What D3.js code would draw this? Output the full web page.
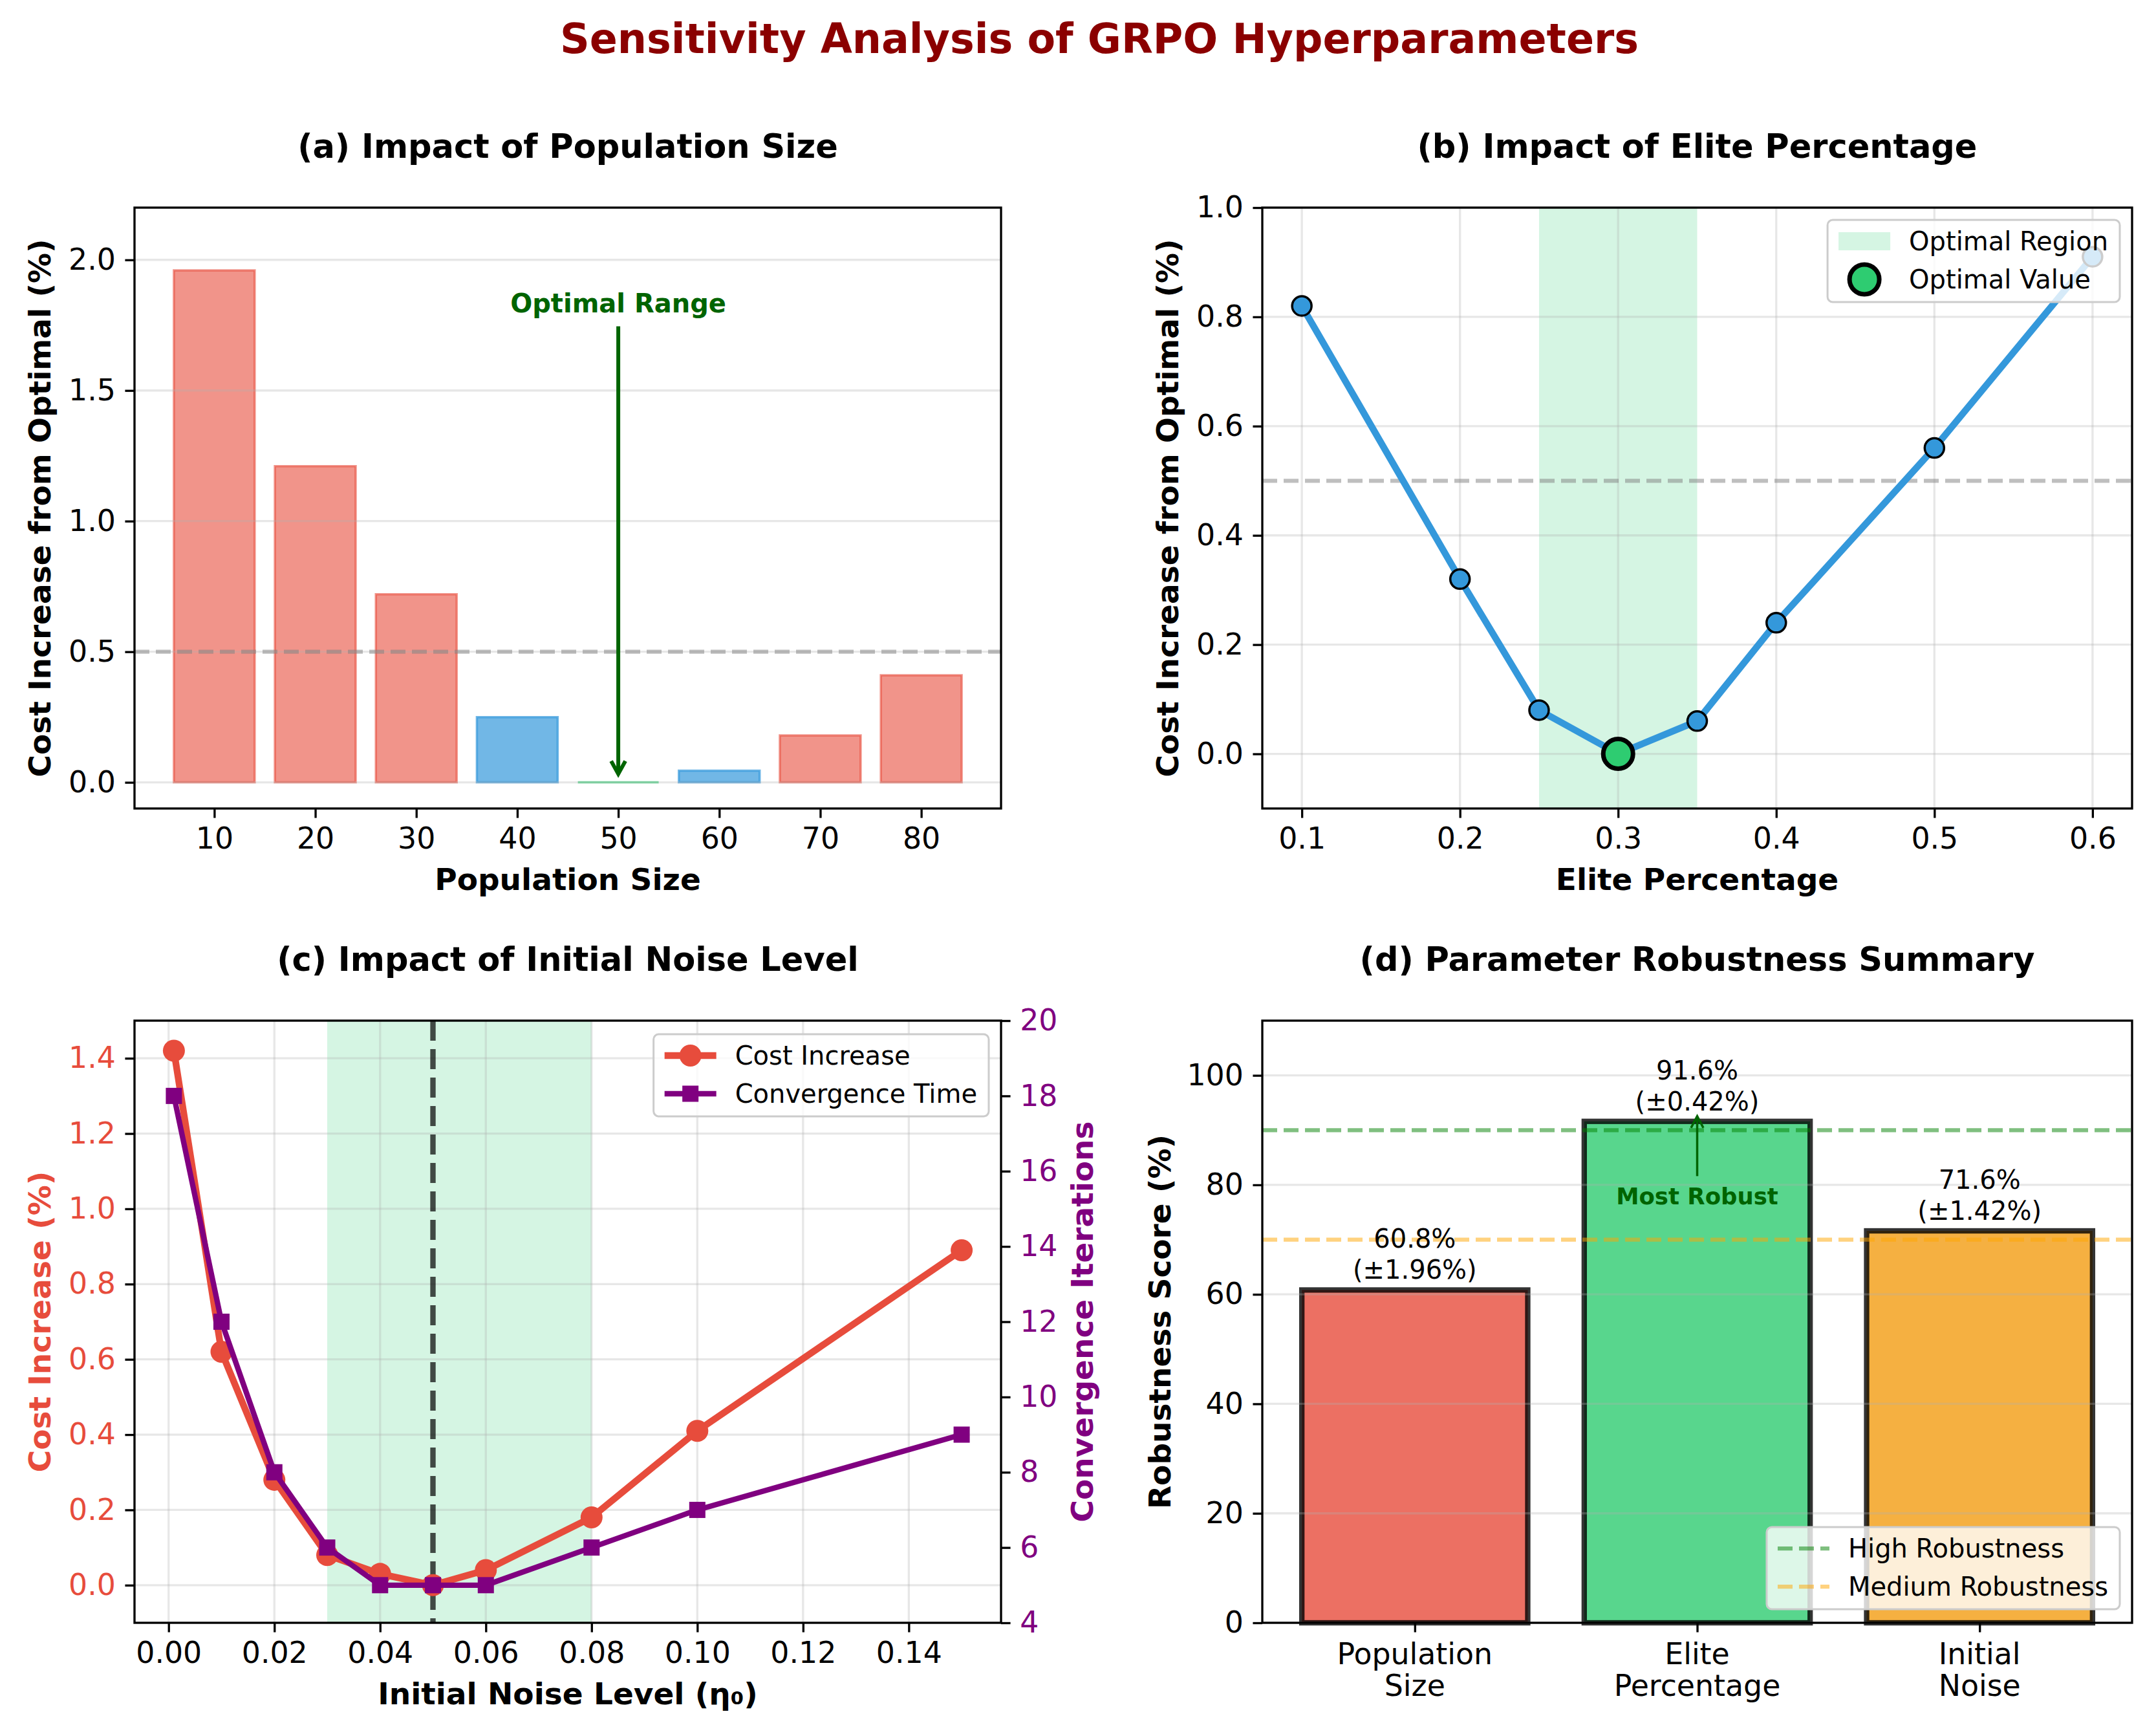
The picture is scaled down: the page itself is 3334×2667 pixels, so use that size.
<!DOCTYPE html>
<html>
<head>
<meta charset="utf-8">
<script src="https://cdn.jsdelivr.net/npm/d3@7"></script>
<style>
body { margin: 0; background: #fff; }
</style>
</head>
<body>
<div id="chart"></div>
<script>
// ---- data ----
var popSizes = [10, 20, 30, 40, 50, 60, 70, 80];
var popCost = [1.96, 1.21, 0.72, 0.25, 0.0, 0.045, 0.18, 0.41];
var popStatus = ["poor", "poor", "poor", "near", "optimal", "near", "poor", "poor"];
var popYTicks = [0, 0.5, 1.0, 1.5, 2.0];

var elitePct = [0.1, 0.2, 0.25, 0.3, 0.35, 0.4, 0.5, 0.6];
var eliteCost = [0.82, 0.32, 0.08, 0.0, 0.06, 0.24, 0.56, 0.91];
var eliteBest = 0.3;
var eliteRegion = [0.25, 0.35];
var eliteXTicks = [0.1, 0.2, 0.3, 0.4, 0.5, 0.6];
var eliteYTicks = [0, 0.2, 0.4, 0.6, 0.8, 1.0];

var noiseLevels = [0.001, 0.01, 0.02, 0.03, 0.04, 0.05, 0.06, 0.08, 0.10, 0.15];
var noiseCost = [1.42, 0.62, 0.28, 0.08, 0.03, 0.0, 0.04, 0.18, 0.41, 0.89];
var noiseIters = [18, 12, 8, 6, 5, 5, 5, 6, 7, 9];
var noiseRegion = [0.03, 0.08];
var noiseBest = 0.05;
var noiseXTicks = [0, 0.02, 0.04, 0.06, 0.08, 0.10, 0.12, 0.14];
var noiseYTicks = [0, 0.2, 0.4, 0.6, 0.8, 1.0, 1.2, 1.4];
var iterTicks = [4, 6, 8, 10, 12, 14, 16, 18, 20];

var paramNames = [["Population", "Size"], ["Elite", "Percentage"], ["Initial", "Noise"]];
var robustScore = [60.8, 91.6, 71.6];
var robustStd = [1.96, 0.42, 1.42];
var robustYTicks = [0, 20, 40, 60, 80, 100];
var highLevel = 90, mediumLevel = 70;
var costThreshold = 0.5;

// ---- setup ----
var W = 3334, H = 2667;
var PT = 300 / 72;
var FS_TICK = 45.8, FS_LAB = 47, FS_TITLE = 51, FS_LEG = 40;

var RED = "#e74c3c", BLUE = "#3498db", GREEN = "#2ecc71", ORANGE = "#f39c12", PURPLE = "#800080";

var svg = d3.select("#chart").append("svg")
    .attr("width", W).attr("height", H)
    .attr("font-family", "DejaVu Sans, sans-serif");
svg.append("rect").attr("width", W).attr("height", H).attr("fill", "#fff");

var boxA = {x0: 208, x1: 1548, y0: 321, y1: 1250},
    boxB = {x0: 1952, x1: 3297, y0: 321, y1: 1250},
    boxC = {x0: 208, x1: 1548, y0: 1578, y1: 2509},
    boxD = {x0: 1952, x1: 3297, y0: 1578, y1: 2509};

svg.append("text").attr("x", 1700).attr("y", 82)
    .attr("text-anchor", "middle").attr("font-weight", "bold")
    .style("font-size", "63.5px").attr("fill", "#8b0000")
    .text("Sensitivity Analysis of GRPO Hyperparameters");

// ---- helpers ----
function clipFor(box, id) {
    svg.append("clipPath").attr("id", id).append("rect")
        .attr("x", box.x0).attr("y", box.y0)
        .attr("width", box.x1 - box.x0).attr("height", box.y1 - box.y0);
    return "url(#" + id + ")";
}

function gridH(box, y, ticks) {
    svg.append("g").selectAll("line").data(ticks).enter().append("line")
        .attr("x1", box.x0).attr("x2", box.x1)
        .attr("y1", function(d) { return y(d); }).attr("y2", function(d) { return y(d); })
        .attr("stroke", "#b0b0b0").attr("stroke-opacity", 0.3).attr("stroke-width", 0.8 * PT);
}

function gridV(box, x, ticks) {
    svg.append("g").selectAll("line").data(ticks).enter().append("line")
        .attr("y1", box.y0).attr("y2", box.y1)
        .attr("x1", function(d) { return x(d); }).attr("x2", function(d) { return x(d); })
        .attr("stroke", "#b0b0b0").attr("stroke-opacity", 0.3).attr("stroke-width", 0.8 * PT);
}

function styleAxis(ax, color) {
    ax.attr("font-family", null).attr("font-size", null);
    ax.select(".domain").remove();
    ax.selectAll(".tick line").attr("stroke", "#000").attr("stroke-width", 0.8 * PT);
    ax.selectAll(".tick text").attr("fill", color || "#000").style("font-size", FS_TICK + "px");
    return ax;
}

function axisLeft(box, y, ticks, fmt, color) {
    var ax = svg.append("g").attr("transform", "translate(" + box.x0 + ",0)")
        .call(d3.axisLeft(y).tickValues(ticks).tickFormat(fmt).tickSize(3.5 * PT).tickPadding(3.5 * PT));
    return styleAxis(ax, color);
}

function axisRight(box, y, ticks, fmt, color) {
    var ax = svg.append("g").attr("transform", "translate(" + box.x1 + ",0)")
        .call(d3.axisRight(y).tickValues(ticks).tickFormat(fmt).tickSize(3.5 * PT).tickPadding(3.5 * PT));
    return styleAxis(ax, color);
}

function axisBottom(box, x, ticks, fmt) {
    var ax = svg.append("g").attr("transform", "translate(0," + box.y1 + ")")
        .call(d3.axisBottom(x).tickValues(ticks).tickFormat(fmt).tickSize(3.5 * PT).tickPadding(3.5 * PT));
    return styleAxis(ax);
}

function frame(box) {
    svg.append("rect").attr("x", box.x0).attr("y", box.y0)
        .attr("width", box.x1 - box.x0).attr("height", box.y1 - box.y0)
        .attr("fill", "none").attr("stroke", "#000").attr("stroke-width", 0.8 * PT);
}

function titles(box, title, xlab, ylab, ycolor, yoff) {
    var cx = (box.x0 + box.x1) / 2, cy = (box.y0 + box.y1) / 2;
    svg.append("text").attr("x", cx).attr("y", box.y0 - 77)
        .attr("text-anchor", "middle").attr("font-weight", "bold")
        .style("font-size", FS_TITLE + "px").text(title);
    svg.append("text").attr("x", cx).attr("y", box.y1 + 126)
        .attr("text-anchor", "middle").attr("font-weight", "bold")
        .style("font-size", FS_LAB + "px").text(xlab);
    svg.append("text")
        .attr("transform", "translate(" + (box.x0 - (yoff || 130)) + "," + cy + ") rotate(-90)")
        .attr("text-anchor", "middle").attr("font-weight", "bold")
        .attr("fill", ycolor || "#000")
        .style("font-size", FS_LAB + "px").text(ylab);
}

function hline(box, y, v, color, op, w, dash) {
    svg.append("line").attr("x1", box.x0).attr("x2", box.x1)
        .attr("y1", y(v)).attr("y2", y(v))
        .attr("stroke", color).attr("stroke-opacity", op)
        .attr("stroke-width", w).attr("stroke-dasharray", dash);
}

function arrow(x, yFrom, yTo, color, w, hw, hl) {
    var dir = yTo > yFrom ? -1 : 1;
    svg.append("line").attr("x1", x).attr("x2", x).attr("y1", yFrom).attr("y2", yTo)
        .attr("stroke", color).attr("stroke-width", w);
    svg.append("path")
        .attr("d", "M" + (x - hw) + "," + (yTo + dir * hl) + "L" + x + "," + yTo + "L" + (x + hw) + "," + (yTo + dir * hl))
        .attr("fill", "none").attr("stroke", color).attr("stroke-width", w)
        .attr("stroke-linejoin", "miter");
}

function legend(items, right, top, bottom) {
    var g = svg.append("g");
    var box = g.append("rect");
    var padTop = 33, rowH = 59, textX = 126, hx = 17, hl = 80;
    var widths = [];
    items.forEach(function(it, i) {
        var cy = padTop + i * rowH;
        var t = g.append("text").attr("x", textX).attr("y", cy).attr("dy", "0.36em")
            .style("font-size", FS_LEG + "px").attr("fill", "#000").text(it.label);
        widths.push(t.node().getComputedTextLength());
        if (it.type === "patch") {
            g.append("rect").attr("x", hx).attr("y", cy - 14).attr("width", hl).attr("height", 28)
                .attr("fill", it.color).attr("fill-opacity", it.op);
        }
        if (it.type === "line") {
            g.append("line").attr("x1", hx).attr("x2", hx + hl).attr("y1", cy).attr("y2", cy)
                .attr("stroke", it.color).attr("stroke-opacity", it.op || 1)
                .attr("stroke-width", it.w).attr("stroke-dasharray", it.dash || null);
        }
        if (it.marker === "circle") {
            g.append("circle").attr("cx", hx + hl / 2).attr("cy", cy).attr("r", it.r)
                .attr("fill", it.mfill).attr("stroke", it.mstroke || "none").attr("stroke-width", it.msw || 0);
        }
        if (it.marker === "square") {
            g.append("rect").attr("x", hx + hl / 2 - it.r).attr("y", cy - it.r)
                .attr("width", 2 * it.r).attr("height", 2 * it.r).attr("fill", it.mfill);
        }
    });
    var w = textX + d3.max(widths) + 18, h = padTop + (items.length - 1) * rowH + 35;
    box.attr("width", w).attr("height", h).attr("rx", 8)
        .attr("fill", "#fff").attr("fill-opacity", 0.8)
        .attr("stroke", "#cccccc").attr("stroke-width", 3);
    var ty = top != null ? top : bottom - h;
    g.attr("transform", "translate(" + (right - w) + "," + ty + ")");
}

// ---- (a) population size ----
(function() {
    var b = boxA;
    var x = d3.scaleLinear().domain([2.1, 87.9]).range([b.x0, b.x1]);
    var y = d3.scaleLinear().domain([-0.1, 2.2]).range([b.y1, b.y0]);
    var fills = {poor: [RED, 0.6], near: [BLUE, 0.7], optimal: [GREEN, 0.7]};

    // paths, so that a zero-height bar still shows its edge
    svg.append("g").selectAll("path").data(popSizes).enter().append("path")
        .attr("d", function(d, i) {
            var xa = x(d - 4), xb = x(d + 4), ya = y(0), yb = y(popCost[i]);
            return "M" + xa + "," + ya + "H" + xb + "V" + yb + "H" + xa + "Z";
        })
        .attr("fill", function(d, i) { return fills[popStatus[i]][0]; })
        .attr("fill-opacity", function(d, i) { return fills[popStatus[i]][1]; })
        .attr("stroke", function(d, i) { return fills[popStatus[i]][0]; })
        .attr("stroke-opacity", function(d, i) { return fills[popStatus[i]][1]; })
        .attr("stroke-width", 3.5);

    gridH(b, y, popYTicks);
    hline(b, y, costThreshold, "#808080", 0.5, 1.5 * PT, "23,10");

    svg.append("text").attr("x", x(50)).attr("y", y(1.8))
        .attr("text-anchor", "middle").attr("font-weight", "bold")
        .style("font-size", "40px").attr("fill", "#006400").text("Optimal Range");
    arrow(x(50), y(1.8) + 22, y(0) - 13, "#006400", 6, 11, 20);

    frame(b);
    axisLeft(b, y, popYTicks, d3.format(".1f"));
    axisBottom(b, x, popSizes, d3.format("d"));
    titles(b, "(a) Impact of Population Size", "Population Size", "Cost Increase from Optimal (%)");
})();

// ---- (b) elite percentage ----
(function() {
    var b = boxB;
    var x = d3.scaleLinear().domain([0.075, 0.625]).range([b.x0, b.x1]);
    var y = d3.scaleLinear().domain([-0.1, 1.0]).range([b.y1, b.y0]);
    var clip = clipFor(b, "clipB");

    svg.append("rect").attr("x", x(eliteRegion[0])).attr("y", b.y0)
        .attr("width", x(eliteRegion[1]) - x(eliteRegion[0])).attr("height", b.y1 - b.y0)
        .attr("fill", GREEN).attr("fill-opacity", 0.2);
    gridH(b, y, eliteYTicks);
    gridV(b, x, eliteXTicks);
    hline(b, y, costThreshold, "#808080", 0.5, 1.5 * PT, "23,10");

    var line = d3.line().x(function(d, i) { return x(elitePct[i]); }).y(function(d) { return y(d); });
    var g = svg.append("g").attr("clip-path", clip);
    g.append("path").datum(eliteCost).attr("d", line)
        .attr("fill", "none").attr("stroke", BLUE).attr("stroke-width", 2.5 * PT)
        .attr("stroke-linejoin", "round").attr("stroke-linecap", "butt");
    g.selectAll("circle").data(eliteCost).enter().append("circle")
        .attr("cx", function(d, i) { return x(elitePct[i]); })
        .attr("cy", function(d) { return y(d); })
        .attr("r", 15).attr("fill", BLUE).attr("stroke", "#000").attr("stroke-width", 3.5);
    var bi = elitePct.indexOf(eliteBest);
    g.append("circle").attr("cx", x(eliteBest)).attr("cy", y(eliteCost[bi]))
        .attr("r", 23).attr("fill", GREEN).attr("stroke", "#000").attr("stroke-width", 7);

    frame(b);
    axisLeft(b, y, eliteYTicks, d3.format(".1f"));
    axisBottom(b, x, eliteXTicks, d3.format(".1f"));
    titles(b, "(b) Impact of Elite Percentage", "Elite Percentage", "Cost Increase from Optimal (%)");

    legend([
        {type: "patch", label: "Optimal Region", color: GREEN, op: 0.2},
        {type: "none", label: "Optimal Value", marker: "circle", r: 23, mfill: GREEN, mstroke: "#000", msw: 7}
    ], b.x1 - 19, b.y0 + 19);
})();

// ---- (c) initial noise ----
(function() {
    var b = boxC;
    var x = d3.scaleLinear().domain([-0.00645, 0.15745]).range([b.x0, b.x1]);
    var y = d3.scaleLinear().domain([-0.1, 1.5]).range([b.y1, b.y0]);
    var y2 = d3.scaleLinear().domain([4, 20]).range([b.y1, b.y0]);
    var clip = clipFor(b, "clipC");

    svg.append("rect").attr("x", x(noiseRegion[0])).attr("y", b.y0)
        .attr("width", x(noiseRegion[1]) - x(noiseRegion[0])).attr("height", b.y1 - b.y0)
        .attr("fill", GREEN).attr("fill-opacity", 0.2);
    gridH(b, y, noiseYTicks);
    gridV(b, x, noiseXTicks);
    svg.append("line").attr("x1", x(noiseBest)).attr("x2", x(noiseBest))
        .attr("y1", b.y0).attr("y2", b.y1)
        .attr("stroke", "#000").attr("stroke-opacity", 0.7)
        .attr("stroke-width", 2 * PT).attr("stroke-dasharray", "31,13");

    var g = svg.append("g").attr("clip-path", clip);
    var costLine = d3.line().x(function(d, i) { return x(noiseLevels[i]); }).y(function(d) { return y(d); });
    g.append("path").datum(noiseCost).attr("d", costLine)
        .attr("fill", "none").attr("stroke", RED).attr("stroke-width", 2.5 * PT)
        .attr("stroke-linejoin", "round");
    g.selectAll("circle").data(noiseCost).enter().append("circle")
        .attr("cx", function(d, i) { return x(noiseLevels[i]); })
        .attr("cy", function(d) { return y(d); })
        .attr("r", 17).attr("fill", RED);

    var iterLine = d3.line().x(function(d, i) { return x(noiseLevels[i]); }).y(function(d) { return y2(d); });
    g.append("path").datum(noiseIters).attr("d", iterLine)
        .attr("fill", "none").attr("stroke", PURPLE).attr("stroke-width", 2 * PT)
        .attr("stroke-linejoin", "round");
    g.selectAll("rect.sq").data(noiseIters).enter().append("rect").attr("class", "sq")
        .attr("x", function(d, i) { return x(noiseLevels[i]) - 12.5; })
        .attr("y", function(d) { return y2(d) - 12.5; })
        .attr("width", 25).attr("height", 25).attr("fill", PURPLE);

    frame(b);
    axisLeft(b, y, noiseYTicks, d3.format(".1f"), RED);
    axisRight(b, y2, iterTicks, d3.format("d"), PURPLE);
    axisBottom(b, x, noiseXTicks, d3.format(".2f"));
    titles(b, "(c) Impact of Initial Noise Level", "Initial Noise Level (\u03b7\u2080)", "Cost Increase (%)", RED);
    svg.append("text")
        .attr("transform", "translate(" + (b.x1 + 142) + "," + ((b.y0 + b.y1) / 2) + ") rotate(-90)")
        .attr("text-anchor", "middle").attr("font-weight", "bold").attr("fill", PURPLE)
        .style("font-size", FS_LAB + "px").text("Convergence Iterations");

    legend([
        {type: "line", label: "Cost Increase", color: RED, w: 2.5 * PT, marker: "circle", r: 17, mfill: RED},
        {type: "line", label: "Convergence Time", color: PURPLE, w: 2 * PT, marker: "square", r: 12.5, mfill: PURPLE}
    ], b.x1 - 19, b.y0 + 21);
})();

// ---- (d) robustness summary ----
(function() {
    var b = boxD;
    var x = d3.scaleLinear().domain([-0.54, 2.54]).range([b.x0, b.x1]);
    var y = d3.scaleLinear().domain([0, 110]).range([b.y1, b.y0]);
    var colors = [RED, GREEN, ORANGE];
    var idx = d3.range(robustScore.length);

    svg.append("g").selectAll("rect").data(robustScore).enter().append("rect")
        .attr("x", function(d, i) { return x(i - 0.4); })
        .attr("width", function(d, i) { return x(i + 0.4) - x(i - 0.4); })
        .attr("y", function(d) { return y(d); })
        .attr("height", function(d) { return y(0) - y(d); })
        .attr("fill", function(d, i) { return colors[i]; }).attr("fill-opacity", 0.8)
        .attr("stroke", "#000").attr("stroke-opacity", 0.8).attr("stroke-width", 2 * PT);

    gridH(b, y, robustYTicks);
    hline(b, y, highLevel, "#008000", 0.5, 1.5 * PT, "23,10");
    hline(b, y, mediumLevel, "#ffa500", 0.5, 1.5 * PT, "23,10");

    var lab = svg.append("g").selectAll("text").data(robustScore).enter().append("text")
        .attr("text-anchor", "middle").style("font-size", "40px").attr("fill", "#000");
    lab.append("tspan").attr("x", function(d, i) { return x(i); })
        .attr("y", function(d) { return y(d) - 65; })
        .text(function(d) { return d.toFixed(1) + "%"; });
    lab.append("tspan").attr("x", function(d, i) { return x(i); })
        .attr("y", function(d) { return y(d) - 17; })
        .text(function(d, i) { return "(\u00b1" + robustStd[i].toFixed(2) + "%)"; });

    var best = robustScore.indexOf(d3.max(robustScore));
    svg.append("text").attr("x", x(best)).attr("y", y(76.5))
        .attr("text-anchor", "middle").attr("font-weight", "bold")
        .style("font-size", "35.5px").attr("fill", "#006400").text("Most Robust");
    arrow(x(best), y(81.6), y(robustScore[best]) - 8, "#006400", 3.5, 9.5, 18);

    frame(b);
    axisLeft(b, y, robustYTicks, d3.format("d"));
    axisBottom(b, x, idx, function() { return ""; });
    var tl = svg.append("g").selectAll("text").data(paramNames).enter().append("text")
        .attr("text-anchor", "middle").style("font-size", FS_TICK + "px").attr("fill", "#000");
    tl.append("tspan").attr("x", function(d, i) { return x(i); }).attr("y", b.y1 + 64)
        .text(function(d) { return d[0]; });
    tl.append("tspan").attr("x", function(d, i) { return x(i); }).attr("y", b.y1 + 113)
        .text(function(d) { return d[1]; });

    titles(b, "(d) Parameter Robustness Summary", "", "Robustness Score (%)", null, 142);

    legend([
        {type: "line", label: "High Robustness", color: "#008000", op: 0.5, w: 1.5 * PT, dash: "23,10"},
        {type: "line", label: "Medium Robustness", color: "#ffa500", op: 0.5, w: 1.5 * PT, dash: "23,10"}
    ], b.x1 - 19, null, b.y1 - 21);
})();
</script>
</body>
</html>
